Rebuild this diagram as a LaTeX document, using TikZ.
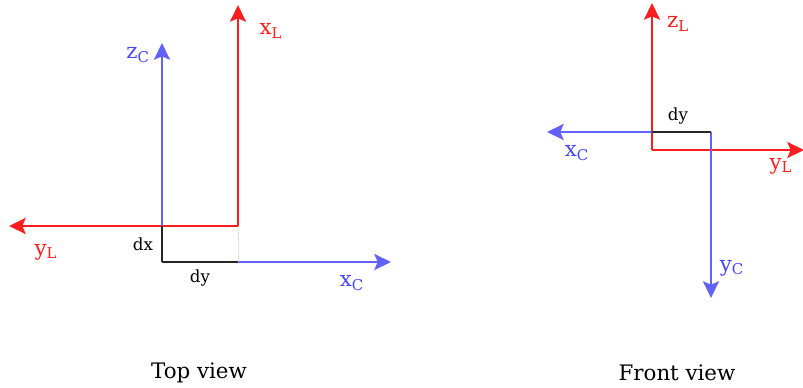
\documentclass[tikz,border=0pt]{standalone}
\usepackage{fontspec}
\setmainfont{DejaVu Serif}
\usetikzlibrary{arrows.meta}
\definecolor{axred}{RGB}{250,30,30}
\definecolor{axblue}{RGB}{70,70,250}
\tikzset{
	axis/.style={line width=1.5pt, -{Stealth[length=12.5pt,width=12pt,inset=2.5pt]}},
	lab/.style={font=\fontsize{16}{18}\selectfont, inner sep=0pt},
	small/.style={font=\fontsize{12.5}{14}\selectfont, inner sep=0pt},
	gap/.style={line width=1.4pt, black!85}
}
\begin{document}
\begin{tikzpicture}[x=0.75pt,y=-0.75pt]
	\useasboundingbox (0,0) rectangle (803,387);
	\coordinate (oL) at (238,226);
	\coordinate (xL) at (238,5);
	\coordinate (yL) at (9,226);
	\coordinate (oC) at (162,262);
	\coordinate (zC) at (162,43);
	\coordinate (xC) at (391,262);
	\coordinate (dxT) at (162,226);
	\coordinate (dyT) at (238,262);
	\draw [axis, axred](oL)--(xL);
	\draw [axis, axred](oL)--(yL);
	\draw [axis, axblue!85](oC)--(zC);
	\draw [axis, axblue!85](oC)--(xC);
	\draw [black!20, densely dotted](oL)--(dyT);
	\draw [gap](oC)--(dxT);
	\draw [gap](oC)--(dyT);
	\node [lab, text=axred] (lxL) at (271,31){x\textsubscript{L}};
	\node [lab, text=axblue] (lzC) at (138,55){z\textsubscript{C}};
	\node [lab, text=axred] (lyL) at (46,252){y\textsubscript{L}};
	\node [lab, text=axblue] (lxC) at (352,283){x\textsubscript{C}};
	\node [small] (ldx) at (143,244){dx};
	\node [small] (ldy) at (200,278){dy};
	\coordinate (oL2) at (652,150);
	\coordinate (zL2) at (652,3);
	\coordinate (yL2) at (804,150);
	\coordinate (oC2) at (711,132);
	\coordinate (xC2) at (547,132);
	\coordinate (yC2) at (711,298);
	\coordinate (dyF) at (652,132);
	\draw [axis, axred](oL2)--(zL2);
	\draw [axis, axred](oL2)--(yL2);
	\draw [axis, axblue!85](oC2)--(xC2);
	\draw [axis, axblue!85](oC2)--(yC2);
	\draw [gap](oC2)--(dyF);
	\node [lab, text=axred] (lzL2) at (678,24){z\textsubscript{L}};
	\node [lab, text=axred] (lyL2) at (781,166){y\textsubscript{L}};
	\node [lab, text=axblue] (lxC2) at (577,153){x\textsubscript{C}};
	\node [lab, text=axblue] (lyC2) at (732,268){y\textsubscript{C}};
	\node [small] (ldy2) at (678,116){dy};
	\node [lab] (top) at (199,373){Top view};
	\node [lab] (front) at (677,373){Front view};
\end{tikzpicture}
\end{document}
